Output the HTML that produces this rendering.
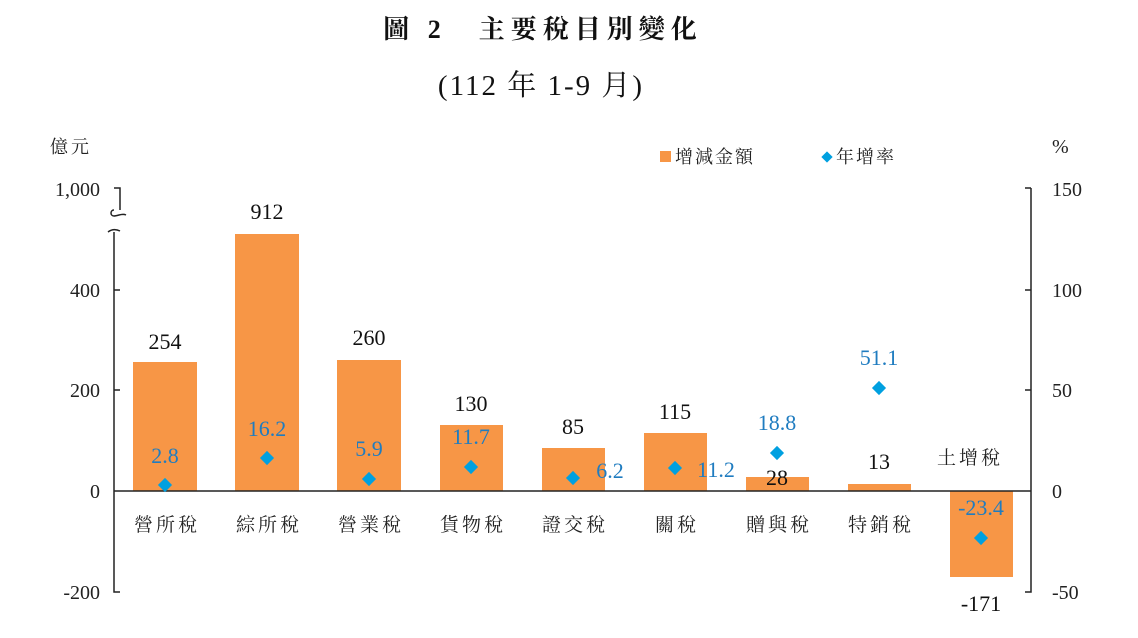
<!DOCTYPE html>
<html><head><meta charset="utf-8"><style>
body{margin:0;background:#fff}
svg text{font-family:"Liberation Serif","Noto Serif CJK SC",serif}
.cj{font-family:"Liberation Serif","Noto Serif CJK SC","Noto Sans CJK TC",serif}
</style></head><body>
<svg width="1138" height="633" xmlns="http://www.w3.org/2000/svg">
<text x="543" y="38" text-anchor="middle" font-size="26" font-weight="bold" class="cj" fill="#111" letter-spacing="6">圖 2　主要稅目別變化</text>
<text x="541" y="95" text-anchor="middle" font-size="29" class="cj" fill="#111" letter-spacing="2">(112 年 1-9 月)</text>
<text x="50" y="153" font-size="18" class="cj" fill="#222" letter-spacing="3">億元</text>
<text x="1052" y="153" font-size="20" fill="#222">%</text>
<rect x="660" y="151" width="11" height="11" fill="#F79646"/>
<text x="675" y="163" font-size="18" class="cj" fill="#222" letter-spacing="2">增減金額</text>
<rect x="823" y="153" width="8" height="8" fill="#00A0E0" transform="rotate(45 827 157)"/>
<text x="836" y="163" font-size="18" class="cj" fill="#222" letter-spacing="2">年增率</text>
<g fill="#F79646">
<rect x="133" y="362" width="64" height="129"/>
<rect x="235" y="234" width="64" height="257"/>
<rect x="337" y="360" width="64" height="131"/>
<rect x="440" y="425" width="63" height="66"/>
<rect x="542" y="448" width="63" height="43"/>
<rect x="644" y="433" width="63" height="58"/>
<rect x="746" y="477" width="63" height="14"/>
<rect x="848" y="484" width="63" height="7"/>
<rect x="950" y="491" width="63" height="86"/>
</g>
<g stroke="#222" stroke-width="1.5" fill="none">
<path d="M114 232V592h6M114 188h6V210"/>
<path d="M114 210c-4 0-4 6 0 6c4 0 8-3 12-1M108 232c4-3 8-3 12-1"/>
<path d="M114 290h6M114 390h6M114 491H1031M1031 188h-6M1031 188V592h-6M1031 290h-6M1031 390h-6"/>
</g>
<g font-size="20" fill="#222" text-anchor="end">
<text x="100" y="196">1,000</text><text x="100" y="297">400</text><text x="100" y="397">200</text><text x="100" y="498">0</text><text x="100" y="599">-200</text>
</g>
<g font-size="20" fill="#222">
<text x="1052" y="196">150</text><text x="1052" y="297">100</text><text x="1052" y="397">50</text><text x="1052" y="498">0</text><text x="1052" y="599">-50</text>
</g>
<g font-size="19" class="cj" fill="#222" text-anchor="middle" letter-spacing="3">
<text x="167" y="531">營所稅</text><text x="269" y="531">綜所稅</text><text x="371" y="531">營業稅</text><text x="473" y="531">貨物稅</text><text x="575" y="531">證交稅</text><text x="677" y="531">關稅</text><text x="779" y="531">贈與稅</text><text x="881" y="531">特銷稅</text><text x="970" y="464">土增稅</text>
</g>
<g font-size="22" fill="#111" text-anchor="middle">
<text x="165" y="349">254</text><text x="267" y="219">912</text><text x="369" y="345">260</text><text x="471" y="411">130</text><text x="573" y="434">85</text><text x="675" y="419">115</text><text x="777" y="485">28</text><text x="879" y="469">13</text><text x="981" y="611">-171</text>
</g>
<g font-size="22" fill="#1F7CC0" text-anchor="middle">
<text x="165" y="463">2.8</text><text x="267" y="436">16.2</text><text x="369" y="456">5.9</text><text x="471" y="444">11.7</text><text x="610" y="478">6.2</text><text x="716" y="477">11.2</text><text x="777" y="430">18.8</text><text x="879" y="365">51.1</text><text x="981" y="515">-23.4</text>
</g>
<g fill="#00A0E0">
<rect x="160" y="480" width="10" height="10" transform="rotate(45 165 485)"/>
<rect x="262" y="453" width="10" height="10" transform="rotate(45 267 458)"/>
<rect x="364" y="474" width="10" height="10" transform="rotate(45 369 479)"/>
<rect x="466" y="462" width="10" height="10" transform="rotate(45 471 467)"/>
<rect x="568" y="473" width="10" height="10" transform="rotate(45 573 478)"/>
<rect x="670" y="463" width="10" height="10" transform="rotate(45 675 468)"/>
<rect x="772" y="448" width="10" height="10" transform="rotate(45 777 453)"/>
<rect x="874" y="383" width="10" height="10" transform="rotate(45 879 388)"/>
<rect x="976" y="533" width="10" height="10" transform="rotate(45 981 538)"/>
</g>
</svg>
</body></html>
